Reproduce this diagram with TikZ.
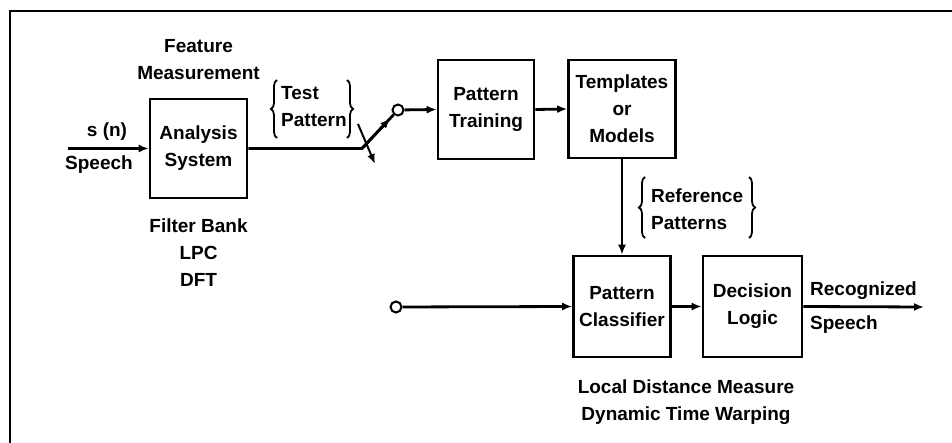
\documentclass[tikz,border=0pt]{standalone}
\usepackage{fontspec}
\setmainfont{Liberation Sans}
\usetikzlibrary{arrows.meta,calc,decorations.pathreplacing}
\begin{document}
\begin{tikzpicture}[x=1pt,y=-1pt,
  font=\fontsize{19}{27}\selectfont\bfseries,
  blk/.style={draw, line width=2.6pt, align=center, inner sep=0pt},
  lbl/.style={align=center, inner sep=0pt},
  wire/.style={line width=2.8pt},
  arr/.style={wire, -{Latex[length=10pt,width=8pt]}},
  brc/.style={decorate, decoration={brace, amplitude=6pt}, line width=1.8pt},
  term/.style={circle, draw, line width=2pt, inner sep=0pt, minimum size=11pt}]
\useasboundingbox (0,0) rectangle (952,443);
\fill[white] (0,0) rectangle (952,443);
% frame
\draw[line width=2.6pt] (10,443) -- (10,11) -- (952,11);

% blocks
\node[blk, minimum width=97pt, minimum height=99pt] (ana) at (198.5,148.5) {Analysis\\System};
\node[blk, minimum width=96pt, minimum height=99pt] (pt) at (486,109.5) {Pattern\\Training};
\node[blk, minimum width=107pt, minimum height=98pt] (tm) at (622,109) {Templates\\or\\Models};
\node[blk, minimum width=97pt, minimum height=101pt] (pc) at (622,306.5) {Pattern\\Classifier};
\node[blk, minimum width=99pt, minimum height=101pt] (dl) at (752.5,306.5) {Decision\\Logic};

% labels
\node[lbl] (feat) at (198.5,60) {Feature\\Measurement};
\node[lbl] (fb) at (198.5,253) {\fontsize{19}{26.5}\selectfont Filter Bank\\LPC\\DFT};
\node[lbl] (sn) at (107,132) {s (n)};
\node[lbl] (sp) at (99,165) {Speech};
\node[lbl, anchor=west, align=left] (tp) at (281,107) {Test\\Pattern};
\node[lbl, anchor=west, align=left] (rp) at (651,209.5) {Reference\\Patterns};
\node[lbl, anchor=west] (rec) at (810,291) {Recognized};
\node[lbl, anchor=west] (rs) at (810,325) {Speech};
\node[lbl] (ld) at (686,402) {\fontsize{19}{26}\selectfont Local Distance Measure\\Dynamic Time Warping};

% braces
\coordinate (tpb1) at (277,138); \coordinate (tpt1) at (277,80);
\coordinate (tpt2) at (347,80); \coordinate (tpb2) at (347,138);
\draw[brc] (tpb1) -- (tpt1);
\draw[brc] (tpt2) -- (tpb2);
\coordinate (rpb1) at (645,238); \coordinate (rpt1) at (645,177);
\coordinate (rpt2) at (749,177); \coordinate (rpb2) at (749,238);
\draw[brc] (rpb1) -- (rpt1);
\draw[brc] (rpt2) -- (rpb2);

% input
\coordinate (in) at (68,148.5);
\draw[arr] (in) -- (ana.west);

% switch
\coordinate (sw) at (362,148.5);
\node[term] (c1) at (398,110) {};
\draw[wire, line join=round] (ana.east) -- (sw) -- (c1);
\draw[arr] (sw) -- ($(sw)!0.78!(c1)$);
\coordinate (sa) at (358,124);
\coordinate (sb) at (375,164);
\draw[arr, line width=2pt] (sa) -- (sb);
\draw[arr] (c1) -- (pt.west);
\draw[arr] (pt.east) -- (tm.west);
\draw[arr] (tm.south) -- (pc.north);

% lower path
\node[term] (c2) at (396,307) {};
\draw[arr] (c2) -- (pc.west);
\draw[arr] (pc.east) -- (dl.west);
\coordinate (out) at (924,307);
\draw[arr] (dl.east) -- (out);
\end{tikzpicture}
\end{document}
